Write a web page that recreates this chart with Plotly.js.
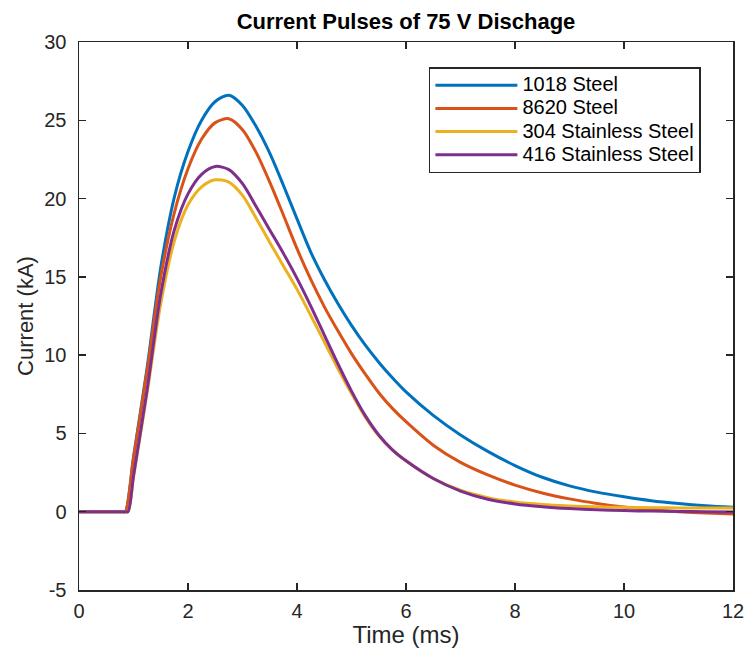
<!DOCTYPE html>
<html>
<head>
<meta charset="utf-8">
<script src="https://cdn.plot.ly/plotly-3.0.1.min.js"></script>
<style>html,body{margin:0;padding:0;background:#fff;}#chart{width:748px;height:653px;}</style>
</head>
<body>
<div id="chart"></div>
<script>
// Time (ms)
const timeA = [0, 0.8, 0.85, 1.0, 1.25, 1.5, 1.75, 2.0, 2.25, 2.5, 2.75, 3.0, 3.25, 3.5, 3.75, 4.0, 4.25, 4.5, 4.75, 5.0, 5.25, 5.5, 5.75, 6.0, 6.5, 7.0, 7.5, 8.0, 8.5, 9.0, 9.5, 10.0, 10.5, 11.0, 11.5, 12.0];
const timeB = [0, 0.85, 0.9, 1.0, 1.25, 1.5, 1.75, 2.0, 2.25, 2.5, 2.75, 3.0, 3.25, 3.5, 3.75, 4.0, 4.25, 4.5, 4.75, 5.0, 5.25, 5.5, 5.75, 6.0, 6.5, 7.0, 7.5, 8.0, 8.5, 9.0, 9.5, 10.0, 10.5, 11.0, 11.5, 12.0];
// Current (kA)
const steel1018    = [0, 0, 0, 3.5, 9.2, 15.6, 20.1, 23.0, 25.0, 26.2, 26.6, 25.95, 24.6, 22.9, 20.85, 18.7, 16.6, 14.85, 13.3, 11.9, 10.65, 9.55, 8.55, 7.65, 6.15, 4.9, 3.85, 2.95, 2.2, 1.65, 1.25, 0.95, 0.7, 0.52, 0.38, 0.28];
const steel8620    = [0, 0, 0, 3.4, 9.0, 15.0, 19.1, 21.9, 23.8, 24.85, 25.1, 24.4, 22.95, 21.05, 18.95, 16.8, 14.85, 13.1, 11.55, 10.1, 8.8, 7.6, 6.6, 5.75, 4.25, 3.15, 2.35, 1.7, 1.2, 0.82, 0.53, 0.3, 0.13, 0.0, -0.09, -0.15];
const stainless304 = [0, 0, 0, 2.2, 7.6, 13.3, 17.3, 19.6, 20.75, 21.2, 21.05, 20.2, 18.75, 17.2, 15.7, 14.2, 12.55, 10.85, 9.15, 7.55, 6.05, 4.85, 3.95, 3.25, 2.12, 1.37, 0.9, 0.62, 0.46, 0.37, 0.31, 0.28, 0.26, 0.24, 0.23, 0.23];
const stainless416 = [0, 0, 0, 2.3, 7.8, 13.9, 18.0, 20.3, 21.55, 22.05, 21.85, 20.95, 19.5, 18.0, 16.5, 14.9, 13.15, 11.3, 9.45, 7.7, 6.15, 4.9, 3.95, 3.25, 2.12, 1.32, 0.8, 0.5, 0.32, 0.2, 0.12, 0.07, 0.04, 0.02, 0.0, -0.02];
const seriesNames = ["1018 Steel", "8620 Steel", "304 Stainless Steel", "416 Stainless Steel"];
const seriesColors = ["#0072BD", "#D95319", "#EDB120", "#7E2F8E"];

const xTicks = [0, 2, 4, 6, 8, 10, 12];
const yTicks = [-5, 0, 5, 10, 15, 20, 25, 30];

const FONT = 'Liberation Sans, Arial, Helvetica, sans-serif';
const ys = [steel1018, steel8620, stainless304, stainless416];
const xs = [timeA, timeA, timeB, timeB];
const traces = ys.map((y, i) => ({
  x: xs[i], y: y, type: 'scatter', mode: 'lines',
  name: '<span style="font-size:20px">' + seriesNames[i] + '</span>',
  line: {color: seriesColors[i], width: 3, shape: 'spline', smoothing: 0.8}
}));

const axisCommon = {
  showgrid: false, zeroline: false, showline: true, linecolor: '#262626', linewidth: 1.5,
  mirror: 'ticks', ticks: 'inside', ticklen: 7, tickwidth: 1.5, tickcolor: '#262626',
  tickfont: {family: FONT, size: 20, color: '#262626'}
};

const layout = {
  width: 748, height: 653,
  margin: {l: 79, r: 15, t: 42, b: 63},
  paper_bgcolor: '#fff', plot_bgcolor: '#fff',
  showlegend: true,
  title: {text: 'Current Pulses of 75 V Dischage', font: {family: FONT, size: 22, color: '#000', weight: 'bold'},
    x: 0.5, xref: 'paper', xanchor: 'center', y: 1 - 21/653, yref: 'container', yanchor: 'middle'},
  xaxis: Object.assign({}, axisCommon, {range: [0, 12], tickvals: xTicks, ticktext: xTicks.map(String), ticklabelstandoff: 2,
    title: {text: 'Time (ms)', font: {family: FONT, size: 24, color: '#262626'}, standoff: 4}}),
  yaxis: Object.assign({}, axisCommon, {range: [-5, 30], tickvals: yTicks, ticktext: yTicks.map(String), ticklabelstandoff: 7,
    title: {text: 'Current (kA)', font: {family: FONT, size: 22, color: '#262626'}, standoff: 4}}),
  legend: {x: 0.535, y: 0.954, xanchor: 'left', yanchor: 'top', bgcolor: '#fff', bordercolor: '#262626', borderwidth: 1.5,
    font: {family: FONT, size: 15.5, color: '#000'}, itemwidth: 82, tracegroupgap: 0}
};

Plotly.newPlot('chart', traces, layout, {displayModeBar: false, staticPlot: true});
</script>
</body>
</html>
